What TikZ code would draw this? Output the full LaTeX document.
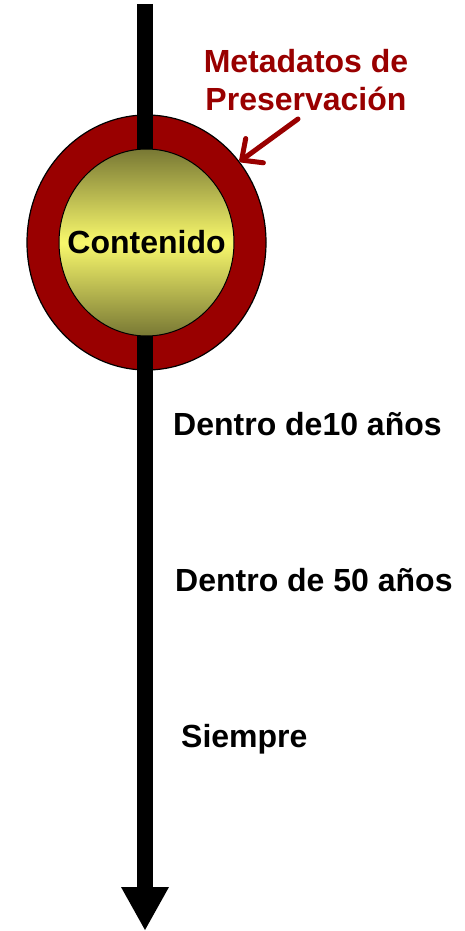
\documentclass[tikz,border=0pt]{standalone}
\usepackage{fontspec}
\setmainfont{Liberation Sans}
\usetikzlibrary{positioning}
\usetikzlibrary{shapes.geometric,arrows.meta}
\definecolor{ringred}{RGB}{153,0,0}
\definecolor{contdark}{RGB}{120,120,52}
\definecolor{contlight}{RGB}{248,248,108}
\tikzset{
 bigbold/.style={font=\bfseries\fontsize{32}{38}\selectfont},
 ring/.style={ellipse,draw=black,line width=1.2pt,fill=ringred,minimum width=239pt,minimum height=255pt},
 content/.style={ellipse,draw=black,line width=1pt,top color=contdark,bottom color=contdark,middle color=contlight,minimum width=175pt,minimum height=187pt,inner sep=0pt,bigbold},
 timetext/.style={anchor=base west,inner sep=0pt,bigbold},
 metatext/.style={align=center,inner sep=0pt,text=ringred,bigbold},
 timeline/.style={line width=16pt,-{Triangle[length=43pt,width=48pt,line width=0pt]}},
 metaarrow/.style={ringred,line width=5pt,line cap=round,-{Straight Barb[length=16pt,width=30pt,round]}}
}
\begin{document}
\begin{tikzpicture}[x=1pt,y=-1pt]
 \useasboundingbox (0,0) rectangle (465,931);
 \node[ring] (ring) at (146.5,242.5) {};
 \coordinate (top) at (145,4);
 \coordinate (tip) at (145,930);
 \draw[timeline] (top) -- (tip);
 \node[content] (cont) at (146.5,242.5) {\makebox[0pt]{Contenido}};
 \node[metatext] (meta) at (306,80) {Metadatos de\\Preservación};
 \coordinate (metafrom) at (298,119);
 \draw[metaarrow] (metafrom) -- (ring.41);
 \node[timetext] (ten) at (173,435) {Dentro de10 años};
 \node[timetext] (fifty) at (175,591) {Dentro de 50 años};
 \node[timetext] (always) at (181,747) {Siempre};
\end{tikzpicture}
\end{document}
